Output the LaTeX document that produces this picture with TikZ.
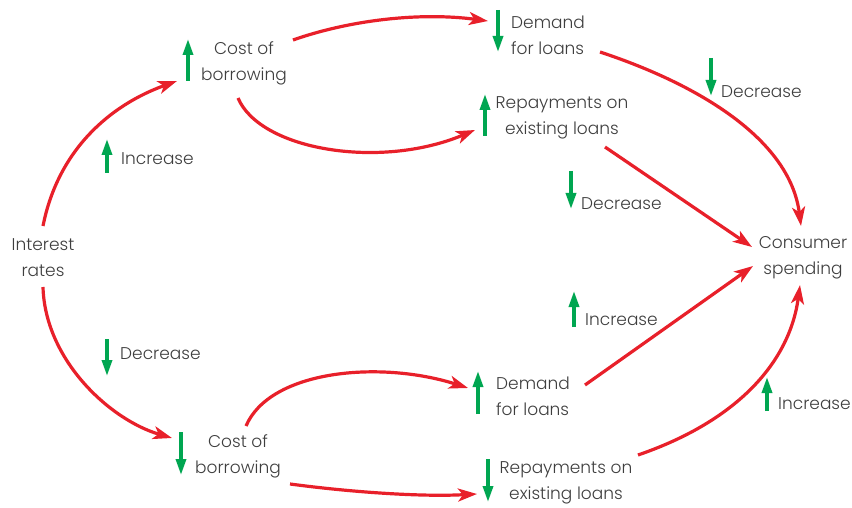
\documentclass[tikz,border=0pt]{standalone}
\usepackage{fontspec}
\setmainfont{Poppins Light}
\usetikzlibrary{arrows.meta}
\definecolor{redarr}{HTML}{E8202A}
\definecolor{grn}{HTML}{00A651}
\definecolor{txt}{HTML}{3E3E3E}
\begin{document}
\begin{tikzpicture}[x=1pt,y=-1pt,
  lbl/.style={font=\fontsize{17}{26}\selectfont, text=txt, inner sep=0pt},
  flow/.style={draw=redarr, line width=3.2pt, -{Stealth[length=19pt,width=13pt,inset=5pt]}},
  upa/.style={draw=grn, line width=3.4pt, -{Triangle[length=16pt,width=10pt]}},
]
\useasboundingbox (0,0) rectangle (852,508);
% text nodes
\node[lbl, align=center] (ir) at (43,258) {Interest\\rates};
\node[lbl, align=center] (tc) at (244,63) {Cost of\\borrowing};
\node[lbl, align=left, anchor=west] (td) at (511,35) {Demand\\for loans};
\node[lbl, align=center] (tr) at (562,118) {Repayments on\\existing loans};
\node[lbl, align=center] (cs) at (803,258) {Consumer\\spending};
\node[lbl, align=left, anchor=west] (bd) at (496,396) {Demand\\for loans};
\node[lbl, align=center] (bc) at (238,456) {Cost of\\borrowing};
\node[lbl, align=center] (br) at (566,483) {Repayments on\\existing loans};
% change labels
\node[lbl, anchor=west] (l1) at (121,159) {Increase};
\node[lbl, anchor=west] (l2) at (721,92) {Decrease};
\node[lbl, anchor=west] (l3) at (581,204) {Decrease};
\node[lbl, anchor=west] (l4) at (585,320) {Increase};
\node[lbl, anchor=west] (l5) at (120,354) {Decrease};
\node[lbl, anchor=west] (l6) at (778,404) {Increase};
% green arrows
\draw[upa] (188,81) -- (188,39);
\draw[upa] (498,10) -- (498,52);
\draw[upa] (485,136) -- (485,94);
\draw[upa] (478,414) -- (478,371);
\draw[upa] (181,432) -- (181,475);
\draw[upa] (488,459) -- (488,502);
\draw[upa] (107,173) -- (107,139);
\draw[upa] (711,58) -- (711,96);
\draw[upa] (571,171) -- (571,209);
\draw[upa] (574,327) -- (574,291);
\draw[upa] (107,339) -- (107,376);
\draw[upa] (767,411) -- (767,377);
% connector endpoints
\coordinate (ir1) at (43,226);
\coordinate (ir2) at (43,287);
\coordinate (tc1) at (177,81);
\coordinate (tc2) at (293,40);
\coordinate (tc3) at (238,98);
\coordinate (td1) at (488,21);
\coordinate (td2) at (600,52);
\coordinate (tr1) at (475,130);
\coordinate (tr2) at (605,147);
\coordinate (cs1) at (801,226);
\coordinate (cs2) at (752,247);
\coordinate (cs3) at (753,266);
\coordinate (cs4) at (800,285);
\coordinate (bc1) at (172,438);
\coordinate (bc2) at (246,426);
\coordinate (bc3) at (290,484);
\coordinate (bd1) at (468,388);
\coordinate (bd2) at (585,385);
\coordinate (br1) at (477,494);
\coordinate (br2) at (638,455);
% red connectors
\draw[flow] (ir1) .. controls (58,150) and (110,105) .. (tc1);
\draw[flow] (tc2) .. controls (350,20) and (420,12) .. (td1);
\draw[flow] (tc3) .. controls (260,150) and (380,170) .. (tr1);
\draw[flow] (td2) .. controls (700,85) and (790,140) .. (cs1);
\draw[flow] (tr2) -- (cs2);
\draw[flow] (ir2) .. controls (45,360) and (110,420) .. (bc1);
\draw[flow] (bc2) .. controls (270,370) and (380,360) .. (bd1);
\draw[flow] (bc3) .. controls (350,492) and (420,497) .. (br1);
\draw[flow] (bd2) -- (cs3);
\draw[flow] (br2) .. controls (740,420) and (790,360) .. (cs4);
\end{tikzpicture}
\end{document}
